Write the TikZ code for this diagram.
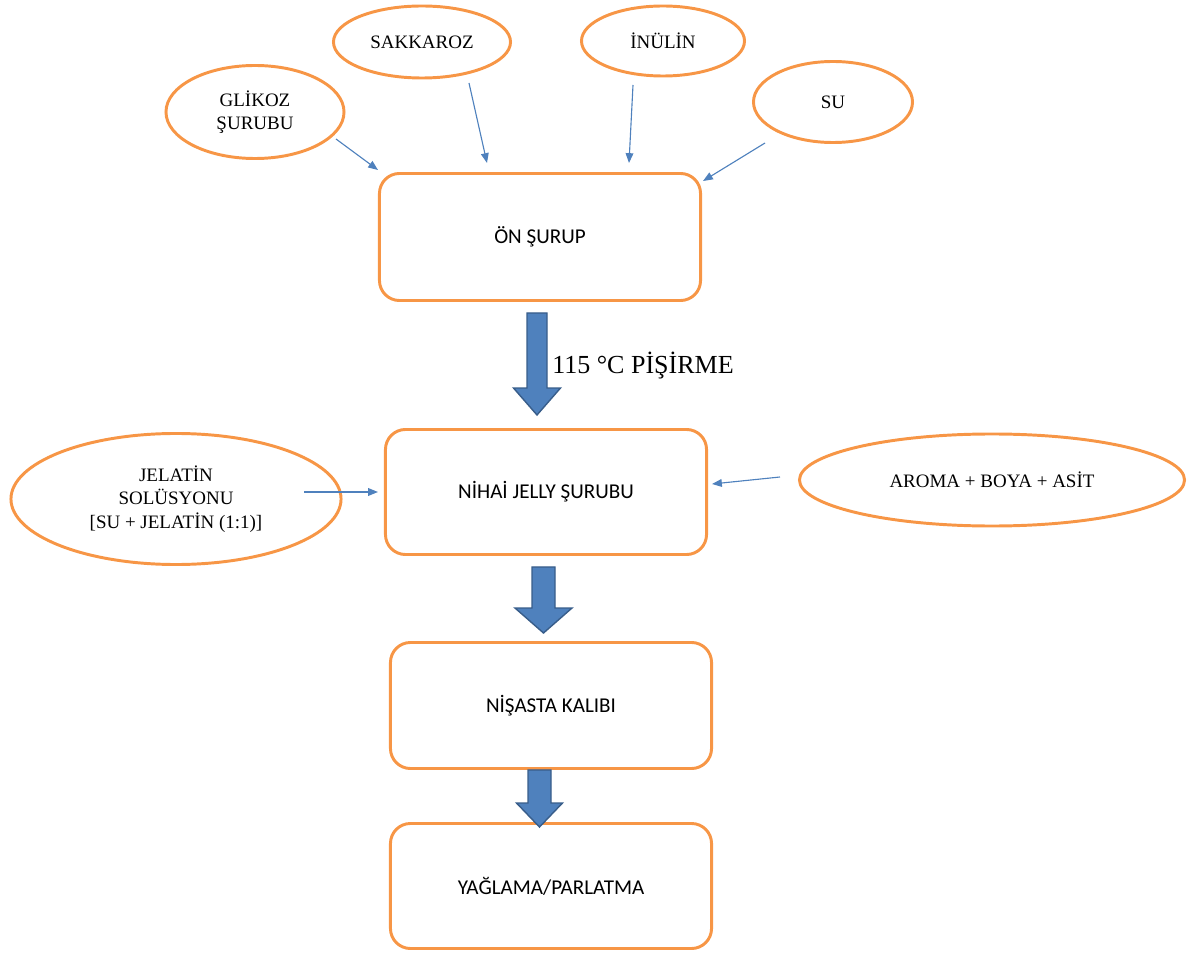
\documentclass[tikz,border=0pt]{standalone}
\usepackage{fontspec}
\setmainfont{Liberation Serif}
\newfontfamily\kutufont{Carlito}
\usepackage{tikz}
\usetikzlibrary{arrows.meta,positioning,shapes,calc}
\definecolor{turuncu}{RGB}{247,150,70}
\definecolor{okmavi}{RGB}{79,129,189}
\definecolor{okkenar}{RGB}{56,93,138}
\tikzset{
  % girdi elipsleri
  girdi/.style={
    ellipse,
    draw=turuncu,
    line width=2.1pt,
    inner sep=0pt,
    align=center,
    font=\fontsize{13.5}{16.5}\selectfont
  },
  % islem kutulari
  kutu/.style={
    rectangle,
    draw=turuncu,
    line width=2.1pt,
    rounded corners=0.5cm,
    minimum width=8.025cm,
    minimum height=3.15cm,
    font=\kutufont\fontsize{15}{18}\selectfont
  },
  % ince oklar
  ince/.style={-{Triangle[length=7pt, width=5.5pt]}, line width=0.8pt, okmavi},
  % kalin blok oklar
  kalin/.style={fill=okmavi, draw=okkenar, line width=1pt},
}
% blok ok: #1 ust orta, #2 uc, #3 govde yari genislik, #4 bas yari genislik, #5 bas boyu
\newcommand{\blokok}[5]{%
  \draw[kalin] (#2) -- ++(#4,-#5) -- ++({#3-#4},0) |- (#1)
    -- ++(-#3,0) -- ($(#2)+(-#3,-#5)$) -- ++({#3-#4},0) -- cycle;
}

\begin{document}
\begin{tikzpicture}[x=0.025cm, y=-0.025cm]
    \useasboundingbox (0,0) rectangle (1192,958);

    % Inputs
    \node[girdi, minimum width=4.45cm, minimum height=2.325cm] (glikoz) at (255,112) {GLİKOZ\\ŞURUBU};
    \node[girdi, minimum width=4.425cm, minimum height=1.8cm] (sakkaroz) at (422,42) {SAKKAROZ};
    \node[girdi, minimum width=4.075cm, minimum height=1.75cm] (inulin) at (663,41) {İNÜLİN};
    \node[girdi, minimum width=3.975cm, minimum height=2.025cm] (su) at (833,102) {SU};
    \node[girdi, minimum width=8.25cm, minimum height=3.275cm] (jelatin) at (176,499) {JELATİN\\SOLÜSYONU\\{}[SU + JELATİN (1:1)]};
    \node[girdi, minimum width=9.625cm, minimum height=2.3cm] (aroma) at (992,480) {AROMA + BOYA + ASİT};

    % Steps
    \node[kutu, minimum height=3.175cm] (onsurup) at (540,237) {ÖN ŞURUP};
    \node[kutu, minimum height=3.125cm] (nihai) at (546,492) {NİHAİ JELLY ŞURUBU};
    \node[kutu] (nisasta) at (551,705.5) {NİŞASTA KALIBI};
    \node[kutu, minimum height=3.125cm] (yaglama) at (551,886) {YAĞLAMA/PARLATMA};

    % Thin arrows into the boxes
    \draw[ince] ($(glikoz)+(81,27)$) -- ($(onsurup.north west)+(0,-2)$);
    \draw[ince] ($(sakkaroz)+(47,41)$) -- ($(onsurup.north)+(-53,-9)$);
    \draw[ince] ($(inulin)+(-30,44)$) -- ($(onsurup.north)+(89,-9)$);
    \draw[ince] ($(su)+(-68,41)$) -- ($(onsurup.north east)+(1,9)$);
    \draw[ince] ($(jelatin)+(128,-7)$) -- ($(nihai.west)+(-6,0)$);
    \draw[ince] ($(aroma)+(-212,-3)$) -- ($(nihai.east)+(4,-8)$);

    % Block arrows between steps
    \blokok{$(onsurup.south)+(-3,11)$}{$(nihai.north)+(-9,-13)$}{10}{23.5}{27}
    \blokok{$(nihai.south)+(-2.5,11)$}{$(nisasta.north)+(-7.5,-8)$}{11.5}{28.5}{25}
    \blokok{$(nisasta.south)+(-11.5,0)$}{$(yaglama.north)+(-11.5,5)$}{11.5}{23}{24}

    \node[anchor=west, inner sep=0pt, font=\fontsize{18.5}{22}\selectfont] (pisirme) at (552,366) {115 °C PİŞİRME};
\end{tikzpicture}
\end{document}
